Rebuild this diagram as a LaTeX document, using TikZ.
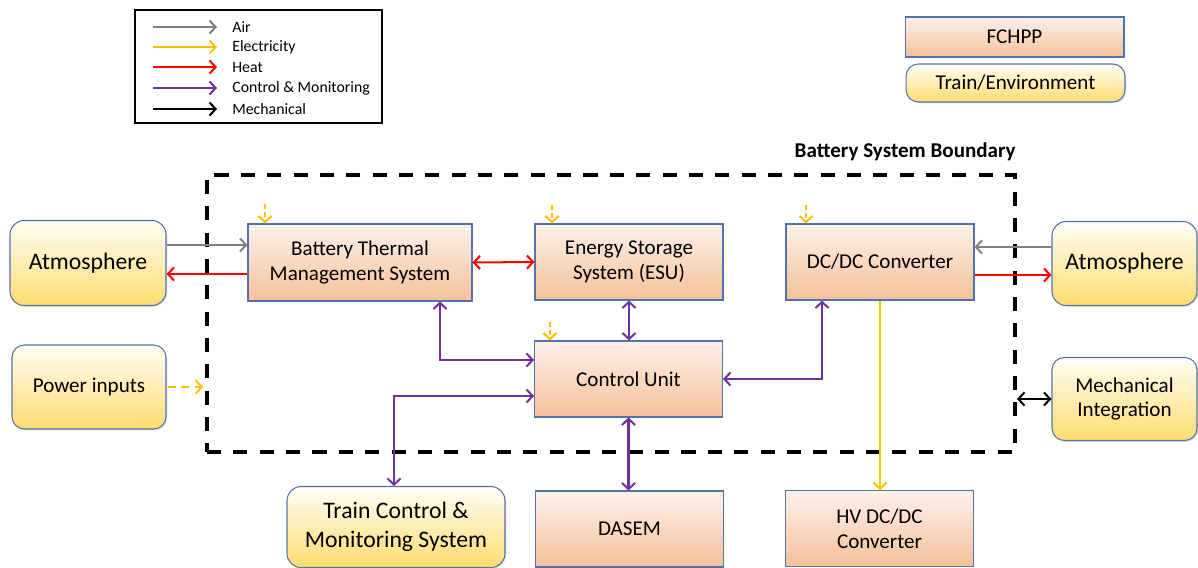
\documentclass[tikz,border=0pt]{standalone}
\usepackage{fontspec}
\setmainfont{Carlito}
\usetikzlibrary{arrows.meta,shadows}
\definecolor{edgeblue}{RGB}{84,114,170}
\definecolor{peachtop}{RGB}{253,241,234}
\definecolor{peachbot}{RGB}{245,192,154}
\definecolor{ylwtop}{RGB}{255,253,246}
\definecolor{ylwbot}{RGB}{255,220,112}
\definecolor{airgray}{RGB}{128,128,128}
\definecolor{elecyellow}{RGB}{255,192,0}
\definecolor{heatred}{RGB}{255,0,0}
\definecolor{ctrlpurple}{RGB}{112,48,160}

\begin{document}
\begin{tikzpicture}[x=0.02cm,y=-0.02cm,
  >={Straight Barb[length=3.5pt,width=7.5pt]},
  fchpp/.style={draw=edgeblue,line width=0.6pt,top color=peachtop,bottom color=peachbot,
    align=center,inner sep=0pt,font=\fontsize{12}{14.2}\selectfont},
  unit/.style={fchpp,minimum width=3.76cm,minimum height=1.52cm},
  train/.style={fchpp,rounded corners=7pt,top color=ylwtop,bottom color=ylwbot,
    drop shadow={shadow xshift=0.8pt,shadow yshift=-0.8pt,opacity=0.25}},
  big/.style={font=\fontsize{13.5}{16.5}\selectfont,rounded corners=8pt},
  boundary/.style={draw,line width=2.3pt,dash pattern=on 8pt off 7pt,inner sep=0pt},
  legtext/.style={anchor=west,inner sep=0pt,font=\fontsize{9}{10}\selectfont},
  air/.style={draw=airgray,line width=1.15pt},
  elec/.style={draw=elecyellow,line width=1.15pt},
  heat/.style={draw=heatred,line width=1.15pt},
  ctrl/.style={draw=ctrlpurple,line width=1.15pt},
  mech/.style={draw=black,line width=1.15pt}]
\useasboundingbox (0,0) rectangle (1198,568);

\node[draw,line width=1.2pt,minimum width=4.94cm,minimum height=2.26cm] (legend) at (258.5,66.5) {};
\foreach \sty/\txt/\yy [count=\i] in {air/Air/27,elec/Electricity/47,heat/Heat/67,ctrl/Control \& Monitoring/88,mech/Mechanical/109} {
  \coordinate (lg\i) at (153,\yy);
  \draw[\sty,->] (lg\i) -- ++(64,0);
  \node[legtext] (lgt\i) at (232,\yy) {\txt};
}
\node[fchpp,minimum width=4.38cm,minimum height=0.8cm] (keyfc) at (1014.5,37) {FCHPP};
\node[train,minimum width=4.38cm,minimum height=0.76cm] (keytr) at (1015.5,83) {Train/Environment};

\node[boundary,minimum width=16.16cm,minimum height=5.54cm] (bound) at (611,313.5) {};
\node[anchor=east,inner sep=0pt,font=\bfseries\fontsize{12}{14}\selectfont] (bslabel) at (1016,152) {Battery System Boundary};

\node[unit,minimum width=4.48cm,minimum height=1.54cm] (btms) at (360,262.5) {Battery Thermal\\Management System};
\node[unit] (ess) at (629,262) {Energy Storage\\System (ESU)};
\node[unit] (dcdc) at (880,262) {DC/DC Converter};
\node[unit] (cu) at (628.5,379) {Control Unit};
\node[unit] (dasem) at (629.5,529) {DASEM};
\node[unit] (hv) at (879.5,528.5) {HV DC/DC\\Converter};

\node[train,big,minimum width=3.12cm,minimum height=1.7cm] (atmoL) at (88,263) {Atmosphere};
\node[train,minimum width=3.08cm,minimum height=1.68cm] (pwr) at (89,387) {Power inputs};
\node[train,big,minimum width=2.9cm,minimum height=1.68cm] (atmoR) at (1124.5,263.5) {Atmosphere};
\node[train,minimum width=2.9cm,minimum height=1.66cm] (mi) at (1124.5,399) {Mechanical\\Integration};
\node[train,big,minimum width=4.36cm,minimum height=1.62cm] (tcms) at (396,527) {Train Control \&\\Monitoring System};

\coordinate (airL) at (0,245);
\coordinate (heatL) at (0,274);
\coordinate (airR) at (0,247);
\coordinate (heatR) at (0,275);
\coordinate (ctrlA) at (440,360);
\coordinate (ctrlB) at (394,396);
\coordinate (ctrlC) at (822,379);
\coordinate (ebtms) at (265,204);
\coordinate (eess) at (552,205);
\coordinate (edcdc) at (806,205);
\coordinate (ecu) at (550,322);

\draw[air,->] (atmoL.east |- airL) -- (btms.west |- airL);
\draw[heat,->] (btms.west |- heatL) -- (atmoL.east |- heatL);
\draw[heat,<->] (btms.east) -- (ess.west);
\draw[air,->] (atmoR.west |- airR) -- (dcdc.east |- airR);
\draw[heat,->] (dcdc.east |- heatR) -- (atmoR.west |- heatR);
\draw[elec,dash pattern=on 4.5pt off 3pt,->,shorten <=1pt,shorten >=1pt] (pwr.east) -- (bound.west |- pwr.east);
\draw[mech,<->] (bound.east |- mi.west) -- (mi.west);

\draw[elec,dash pattern=on 3pt off 1.5pt,->] (ebtms) -- (ebtms |- btms.north);
\draw[elec,dash pattern=on 3pt off 1.5pt,->] (eess) -- (eess |- ess.north);
\draw[elec,dash pattern=on 3pt off 1.5pt,->] (edcdc) -- (edcdc |- dcdc.north);
\draw[elec,dash pattern=on 3pt off 1.5pt,->] (ecu) -- (ecu |- cu.north);

\draw[ctrl,<->] (ess.south) -- (ess.south |- cu.north);
\draw[ctrl,<->] (btms.south -| ctrlA) |- (cu.west |- ctrlA);
\draw[ctrl,<->] (cu.west |- ctrlB) -| (tcms.north -| ctrlB);
\draw[ctrl,<->] (cu.east) -| (dcdc.south -| ctrlC);
\draw[ctrl,<->] (cu.south) -- (cu.south |- dasem.north);
\draw[elec,->] (dcdc.south) -- (dcdc.south |- hv.north);
\end{tikzpicture}
\end{document}
